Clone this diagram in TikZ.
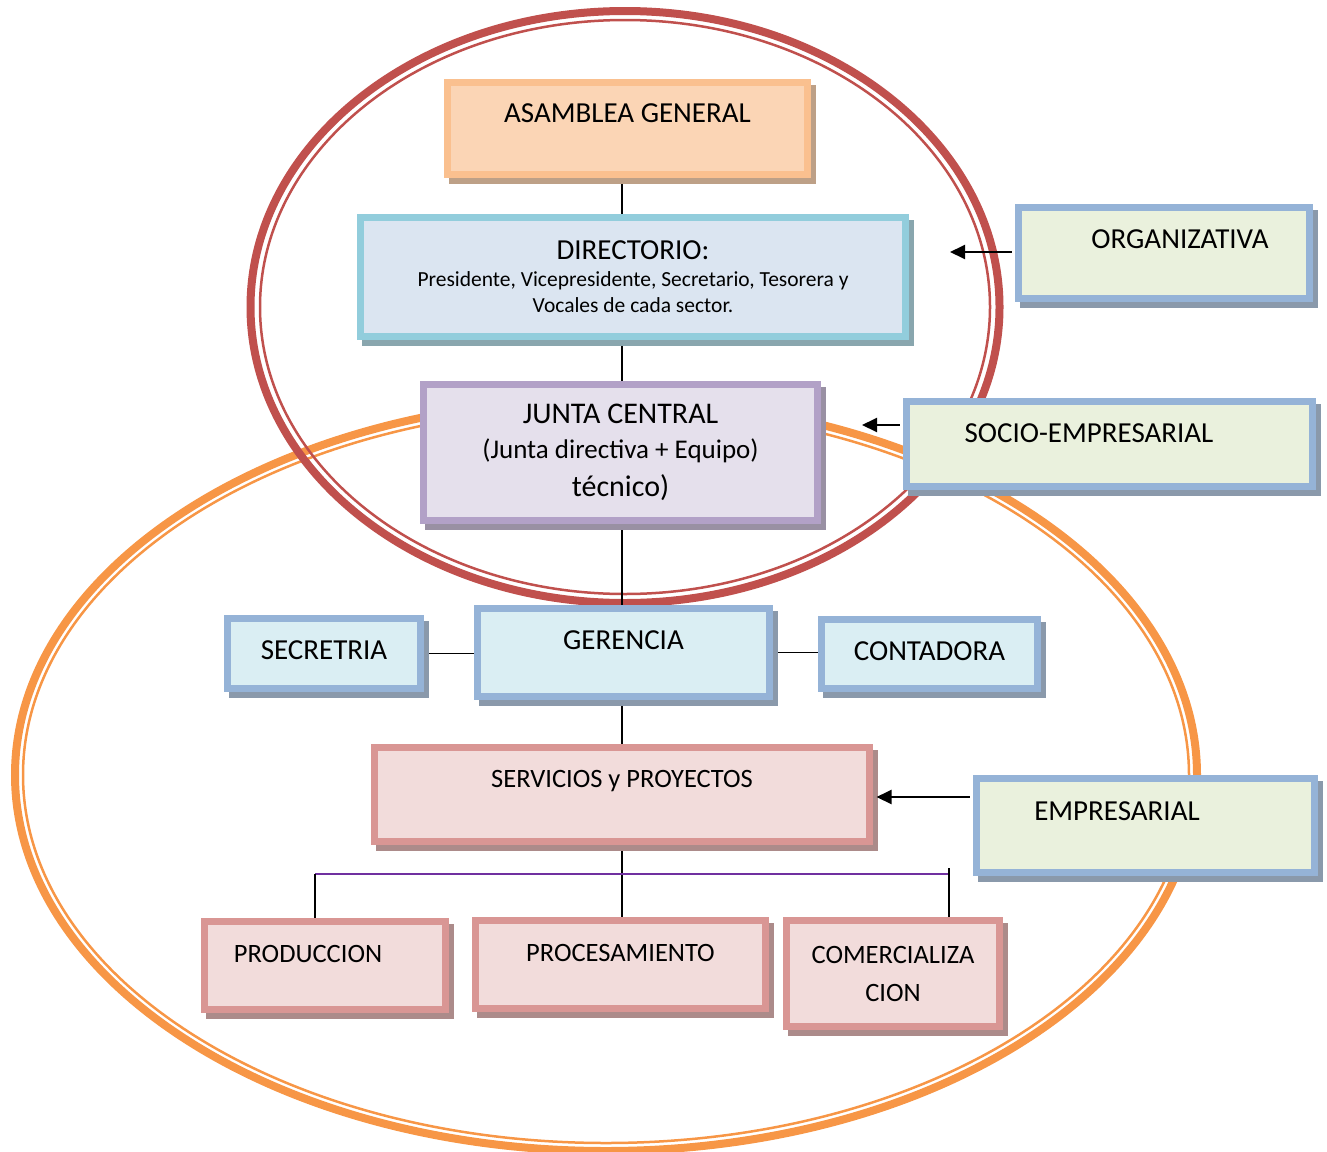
\documentclass[tikz,border=0pt]{standalone}
\usepackage{fontspec}
\setmainfont{Carlito}
\usetikzlibrary{positioning,arrows.meta,shadows,backgrounds}
\definecolor{redell}{HTML}{C0504D}
\definecolor{orgell}{HTML}{F79646}
\definecolor{asamline}{HTML}{FAC08F}
\definecolor{asamfill}{HTML}{FBD5B5}
\definecolor{dirline}{HTML}{92CDDC}
\definecolor{dirfill}{HTML}{DBE5F1}
\definecolor{juntaline}{HTML}{B2A1C7}
\definecolor{juntafill}{HTML}{E5E0EC}
\definecolor{blueline}{HTML}{95B3D7}
\definecolor{greenfill}{HTML}{EAF1DD}
\definecolor{cyanfill}{HTML}{DAEEF3}
\definecolor{pinkline}{HTML}{D99694}
\definecolor{pinkfill}{HTML}{F2DCDB}
\definecolor{purpleline}{HTML}{7030A0}

\begin{document}
\begin{tikzpicture}[x=1pt,y=-1pt,
  box/.style 2 args={draw=#1,fill=#2,line width=7pt,
    general shadow={draw=#1!50!gray,fill=#1!50!gray,line width=7pt,
      shadow xshift=5pt,shadow yshift=-6pt}},
  lift/.style={text height=19pt,text depth=#1},
  big/.style={font=\fontsize{29}{36}\selectfont},
  mid/.style={font=\fontsize{26.5}{38}\selectfont},
  link/.style={line width=1.5pt},
  arr/.style={-{Triangle[length=15pt,width=14pt]},line width=2pt}]
\useasboundingbox (0,0) rectangle (1327,1151);

% upper block
\node[box={asamline}{asamfill},big,lift=31pt,minimum width=360,minimum height=92]
  (asam) at (627.5,128.5) {ASAMBLEA GENERAL};
\node[box={dirline}{dirfill},align=center,font=\fontsize{21.5}{26}\selectfont,
  minimum width=545,minimum height=119] (dir) at (633,277)
  {{\fontsize{29}{30}\selectfont DIRECTORIO:}\\[1pt]
   Presidente, Vicepresidente, Secretario, Tesorera y\\ Vocales de cada sector.};
\node[box={juntaline}{juntafill},align=center,font=\fontsize{27}{35}\selectfont,
  minimum width=394,minimum height=136] (junta) at (620.5,452.5)
  {{\fontsize{30}{35}\selectfont JUNTA CENTRAL}\\(Junta directiva + Equipo)\\[3pt]
  {\fontsize{30}{36}\selectfont t\'ecnico)}};

% sectors
\node[box={blueline}{greenfill},big,lift=28pt,minimum width=291,minimum height=91]
  (org) at (1164,253) {\hspace*{32pt}ORGANIZATIVA};
\node[box={blueline}{greenfill},big,lift=22pt,minimum width=406,minimum height=85]
  (socio) at (1109.5,444) {SOCIO-EMPRESARIAL\hspace*{41pt}};
\node[box={blueline}{greenfill},big,lift=29pt,minimum width=338,minimum height=94]
  (emp) at (1145.5,825.5) {EMPRESARIAL\hspace*{57pt}};

% management
\node[box={blueline}{cyanfill},big,lift=25pt,minimum width=292,minimum height=88]
  (ger) at (623.5,652.5) {GERENCIA};
\node[box={blueline}{cyanfill},big,lift=7pt,minimum width=193,minimum height=70]
  (sec) at (324,653.5) {SECRETRIA};
\node[box={blueline}{cyanfill},big,lift=6pt,minimum width=216,minimum height=69]
  (cont) at (929.5,654) {CONTADORA};

% services
\node[box={pinkline}{pinkfill},mid,lift=33pt,minimum width=495,minimum height=94]
  (serv) at (622,794.5) {SERVICIOS y PROYECTOS};
\node[box={pinkline}{pinkfill},mid,lift=25pt,minimum width=241,minimum height=88]
  (prod) at (325,965.5) {PRODUCCION\hspace*{34pt}};
\node[box={pinkline}{pinkfill},mid,lift=25pt,minimum width=290,minimum height=88]
  (proc) at (620.5,964.5) {PROCESAMIENTO};
\node[box={pinkline}{pinkfill},mid,align=center,minimum width=213,minimum height=106]
  (com) at (893,973.5) {COMERCIALIZA\\CION};

\coordinate (spine) at (622,0);
\coordinate (busl) at (315,874);
\coordinate (busr) at (949,874);
\coordinate (orgtip) at (950,252);
\coordinate (sociotip) at (862,425);

\begin{scope}[on background layer]
\draw[orgell,line width=8pt] (606,775) ellipse [x radius=591,y radius=376];
\draw[orgell,line width=2.5pt] (606,775) ellipse [x radius=583,y radius=368];
\draw[redell,line width=8pt] (625,307) ellipse [x radius=374.5,y radius=296];
\draw[redell,line width=2.5pt] (625,307) ellipse [x radius=365,y radius=287];
\draw[link] (asam.south -| spine) -- (dir.north -| spine);
\draw[link] (dir.south -| spine) -- (junta.north -| spine);
\draw[link] (junta.south -| spine) -- (ger.north -| spine);
\draw[link] (ger.south -| spine) -- (serv.north -| spine);
\draw[link] (serv.south -| spine) -- (proc.north -| spine);
\draw[link] (sec.east) -- (sec.east -| ger.west);
\draw[link] (ger.east) -- (ger.east -| cont.west);
\draw[purpleline,line width=2.5pt] (busl) -- (busr);
\draw[link] (busl) -- (prod.north -| busl);
\draw[link] ([yshift=6pt]busr) -- (com.north -| busr);
\end{scope}

\draw[arr,shorten <=3.5pt] (org.west |- orgtip) -- (orgtip);
\draw[arr,shorten <=3.5pt] (socio.west |- sociotip) -- (sociotip);
\draw[arr,shorten <=3.5pt,shorten >=3.5pt] (emp.west |- 0,797) -- (serv.east |- 0,797);
\end{tikzpicture}
\end{document}
